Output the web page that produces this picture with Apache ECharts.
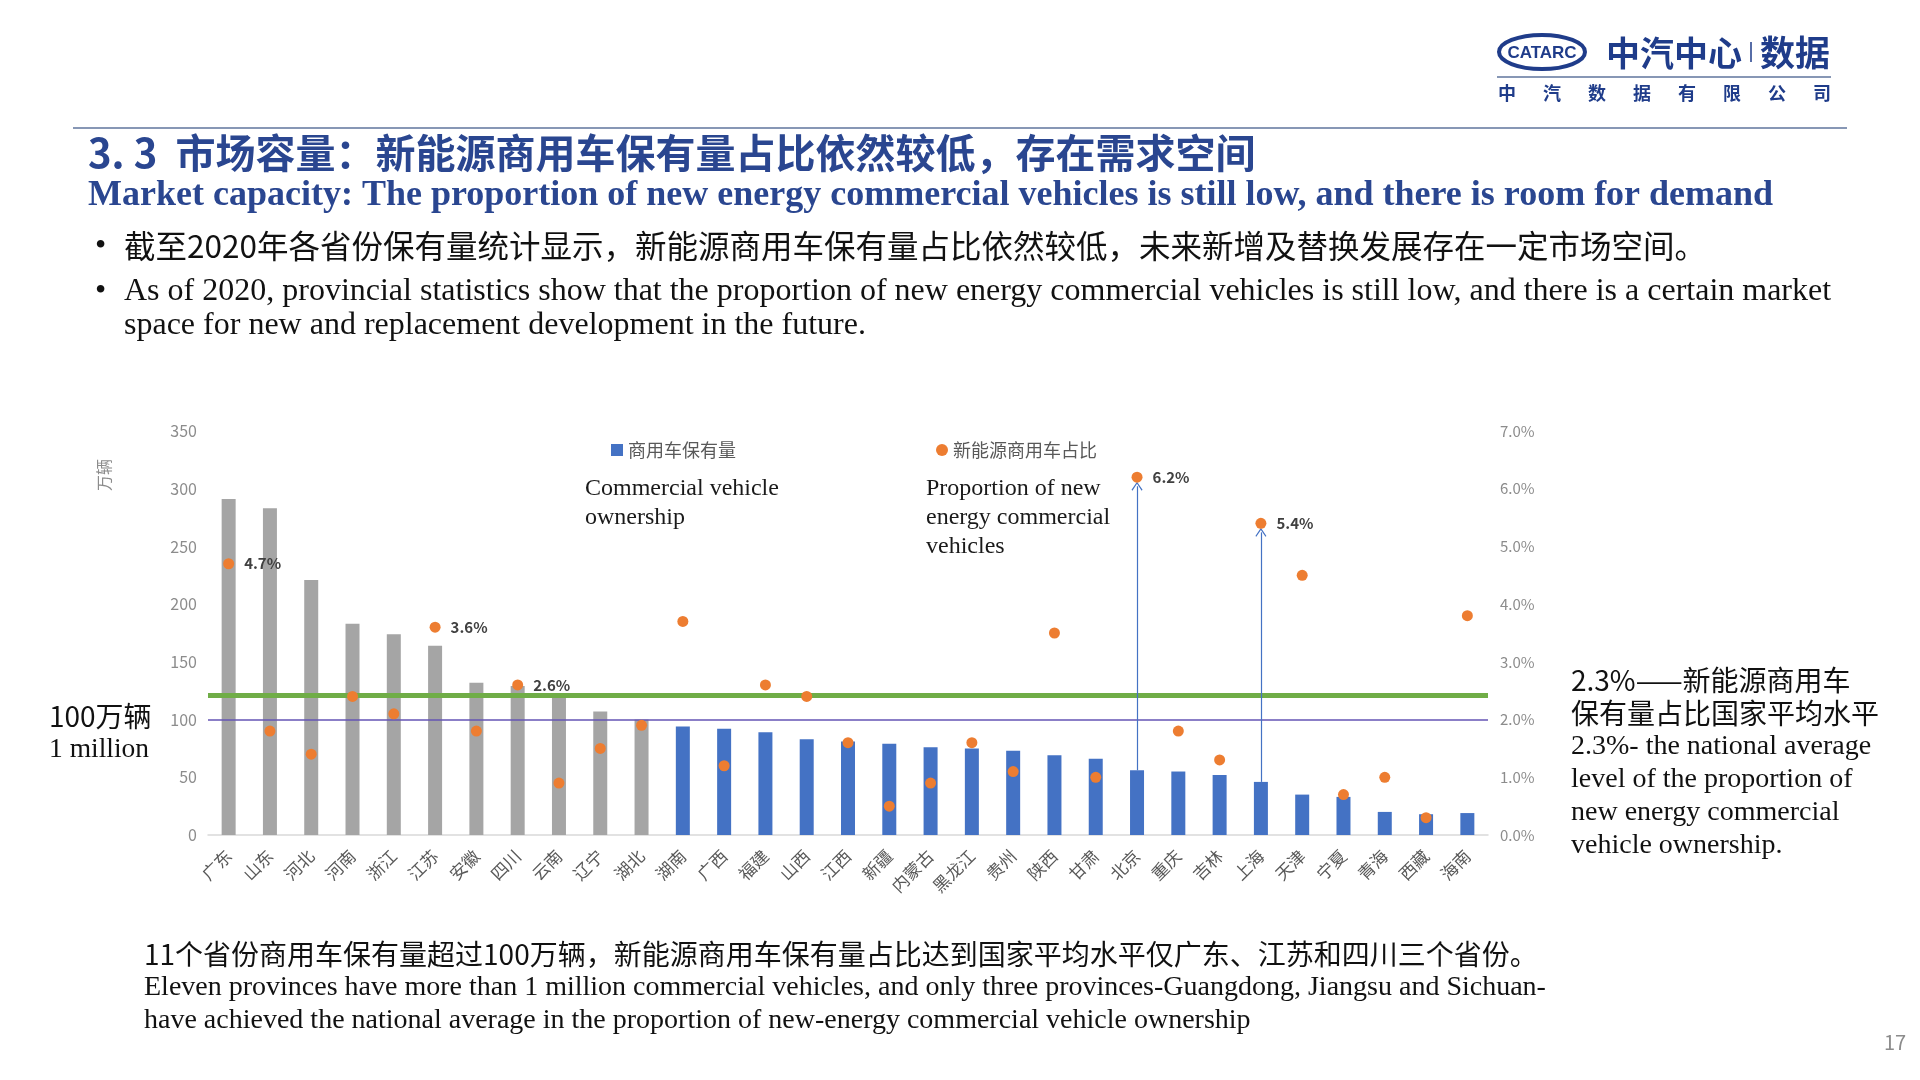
<!DOCTYPE html>
<html>
<head>
<meta charset="utf-8">
<script src="https://cdn.jsdelivr.net/npm/echarts@6/dist/echarts.min.js"></script>
<style>
html,body{margin:0;padding:0;background:#fff;}
#c{width:1920px;height:1080px;}
</style>
</head>
<body>
<div id="c"></div>
<script>
// ---- data ----
const categories = ['广东','山东','河北','河南','浙江','江苏','安徽','四川','云南','辽宁','湖北','湖南','广西','福建','山西','江西','新疆','内蒙古','黑龙江','贵州','陕西','甘肃','北京','重庆','吉林','上海','天津','宁夏','青海','西藏','海南'];
const ownership = [291,283,221,183,174,164,132,129,122,107,100,94,92,89,83,81,79,76,75,73,69,66,56,55,52,46,35,33,20,18,19];
const nevShare = [4.7,1.8,1.4,2.4,2.1,3.6,1.8,2.6,0.9,1.5,1.9,3.7,1.2,2.6,2.4,1.6,0.5,0.9,1.6,1.1,3.5,1.0,6.2,1.8,1.3,5.4,4.5,0.7,1.0,0.3,3.8];
const labeledProvinces = ['广东','江苏','四川','北京','上海'];
const arrowProvinces = ['北京','上海'];
const grayCount = 11;            // provinces above 1 million shown in gray
const millionLine = 100;         // 万辆
const avgLineLevel = 2.43;       // green national-average line as drawn
const leftTicks = {min:0, max:350, interval:50};
const rightTicks = {min:0, max:7, interval:1};

// ---- styles ----
const BLUE = '#4472C4', GRAY = '#A5A5A5', ORANGE = '#ED7D31', GREEN = '#70AD47', PURPLE = '#6555B5';
const NAVY = '#2A4690';
const CJK = '"Noto Sans CJK SC","Noto Sans",sans-serif';
const SERIF = '"Liberation Serif","DejaVu Serif",serif';
const grid = {left:208, right:432, top:431, bottom:245};
const gridH = 1080 - grid.top - grid.bottom;
const arrowGap = 9 * rightTicks.max / gridH; // small gap below the dot, in axis units

const barData = ownership.map((v,i)=>({value:v, itemStyle:{color: i < grayCount ? GRAY : BLUE}}));
const scatterData = nevShare.map((v,i)=>({
  value:v,
  label:{show: labeledProvinces.includes(categories[i])}
}));
const ratio = rightTicks.max / leftTicks.max;
const arrowLines = arrowProvinces.map(p=>{
  const i = categories.indexOf(p);
  return [{coord:[i, ownership[i]*ratio]}, {coord:[i, nevShare[i]-arrowGap]}];
});

const chev = 'path://M55,0 L110,80 L101,88 L55,20 L9,88 L0,80 Z';

function txt(x,y,text,font,fill,extra,props){
  return Object.assign({type:'text', silent:true, style:Object.assign({x:x,y:y,text:text,font:font,fill:fill||'#1a1a1a',verticalAlign:'middle',align:'left'}, extra||{})}, props||{});
}

const graphics = [
  // header rules
  {type:'line', silent:true, shape:{x1:73,y1:128,x2:1847,y2:128}, style:{stroke:'#8797B5', lineWidth:2}},
  {type:'line', silent:true, shape:{x1:1497,y1:77,x2:1831,y2:77}, style:{stroke:'#8797B5', lineWidth:2}},
  // logo
  {type:'ellipse', silent:true, shape:{cx:1542,cy:52,rx:43,ry:17}, style:{fill:'none', stroke:'#1F3C8A', lineWidth:4}},
  txt(1542,53,'CATARC','bold 17px "Liberation Sans Narrow","Liberation Sans",sans-serif','#1F3C8A',{align:'center'}),
  txt(1606,53,'中汽中心','bold 34px '+CJK,'#1F3C8A'),
  {type:'line', silent:true, shape:{x1:1751,y1:42,x2:1751,y2:62}, style:{stroke:'#1F3C8A', lineWidth:1.5}},
  txt(1760,53,'数据','bold 35px '+CJK,'#1F3C8A'),
  // titles
  txt(88,153,'3. 3  市场容量：新能源商用车保有量占比依然较低，存在需求空间','bold 40px '+CJK,NAVY),
  txt(88,196,'Market capacity: The proportion of new energy commercial vehicles is still low, and there is room for demand','bold 36px '+SERIF,NAVY),
  txt(95,247,'•','32px '+SERIF,'#111'),
  txt(124,246,'截至2020年各省份保有量统计显示，新能源商用车保有量占比依然较低，未来新增及替换发展存在一定市场空间。','31.5px '+CJK,'#111'),
  txt(95,292,'•','32px '+SERIF,'#111'),
  txt(124,292,'As of 2020, provincial statistics show that the proportion of new energy commercial vehicles is still low, and there is a certain market','32px '+SERIF,'#111'),
  txt(124,326,'space for new and replacement development in the future.','32px '+SERIF,'#111'),
  // chart annotations
  txt(585,489,'Commercial vehicle','24px '+SERIF,'#1a1a1a'),
  txt(585,518,'ownership','24px '+SERIF,'#1a1a1a'),
  txt(926,489,'Proportion of new','24px '+SERIF,'#1a1a1a'),
  txt(926,518,'energy commercial','24px '+SERIF,'#1a1a1a'),
  txt(926,547,'vehicles','24px '+SERIF,'#1a1a1a'),
  txt(104,475,'万辆','16px '+CJK,'#8c8c8c',{align:'center'},{rotation:Math.PI/2, x:0, y:0}),
  txt(49,716,'100万辆','28px '+CJK,'#111'),
  txt(49,750,'1 million','27.5px '+SERIF,'#111'),
  txt(1571,680,'2.3%——新能源商用车','28px '+CJK,'#111'),
  txt(1571,713,'保有量占比国家平均水平','28px '+CJK,'#111'),
  txt(1571,747,'2.3%- the national average','28px '+SERIF,'#111'),
  txt(1571,780,'level of the proportion of','28px '+SERIF,'#111'),
  txt(1571,813,'new energy commercial','28px '+SERIF,'#111'),
  txt(1571,846,'vehicle ownership.','28px '+SERIF,'#111'),
  // bottom
  txt(144,954,'11个省份商用车保有量超过100万辆，新能源商用车保有量占比达到国家平均水平仅广东、江苏和四川三个省份。','28px '+CJK,'#111'),
  txt(144,988,'Eleven provinces have more than 1 million commercial vehicles, and only three provinces-Guangdong, Jiangsu and Sichuan-','28px '+SERIF,'#111'),
  txt(144,1021,'have achieved the national average in the proportion of new-energy commercial vehicle ownership','28px '+SERIF,'#111'),
  txt(1895,1042,'17','20px '+CJK,'#8c8c8c',{align:'center'})
];
'中汽数据有限公司'.split('').forEach((ch,k)=>{
  graphics.push(txt(1507 + k*45, 93, ch, 'bold 18px '+CJK, '#1F3C8A', {align:'center'}));
});

// rotated axis unit label: position through element transform
const unitLabel = graphics.find(g=>g.style && g.style.text==='万辆');
unitLabel.x = unitLabel.style.x; unitLabel.y = unitLabel.style.y;
unitLabel.style.x = 0; unitLabel.style.y = 0;

const chart = echarts.init(document.getElementById('c'), null, {renderer:'canvas'});
chart.setOption({
  animation:false,
  backgroundColor:'#fff',
  grid:grid,
  legend:{
    left:606, top:436, itemGap:200, itemWidth:12, itemHeight:12,
    textStyle:{fontFamily:CJK, fontSize:18, color:'#595959'},
    data:[{name:'商用车保有量', icon:'rect', itemStyle:{color:BLUE}}, {name:'新能源商用车占比', icon:'circle', itemStyle:{color:ORANGE}}]
  },
  xAxis:{
    type:'category', data:categories,
    axisLine:{lineStyle:{color:'#D9D9D9', width:1.5}},
    axisTick:{show:false},
    axisLabel:{rotate:45, fontFamily:CJK, fontSize:17, color:'#595959', margin:18, interval:0}
  },
  yAxis:[
    {type:'value', min:leftTicks.min, max:leftTicks.max, interval:leftTicks.interval,
     axisLine:{show:false}, axisTick:{show:false}, splitLine:{show:false},
     axisLabel:{fontFamily:CJK, fontSize:16, color:'#8c8c8c', margin:11}},
    {type:'value', min:rightTicks.min, max:rightTicks.max, interval:rightTicks.interval,
     axisLine:{show:false}, axisTick:{show:false}, splitLine:{show:false},
     axisLabel:{fontFamily:CJK, fontSize:15, color:'#8c8c8c', margin:12, formatter:v=>v.toFixed(1)+'%'}}
  ],
  series:[
    {name:'商用车保有量', type:'bar', data:barData, barWidth:14, itemStyle:{color:BLUE}, z:2,
     markLine:{silent:true, symbol:'none', label:{show:false}, animation:false,
       lineStyle:{color:PURPLE, width:1.5, type:'solid'},
       data:[{yAxis:millionLine}]}},
    {name:'新能源商用车占比', type:'scatter', yAxisIndex:1, data:scatterData, symbolSize:11, z:5,
     itemStyle:{color:ORANGE, opacity:1},
     label:{position:'right', distance:10, formatter:p=>p.value.toFixed(1)+'%', fontFamily:CJK, fontSize:15, fontWeight:'bold', color:'#404040'},
     markLine:{silent:true, animation:false, label:{show:false}, symbol:'none', z:3,
       lineStyle:{color:GREEN, width:5, type:'solid'},
       data:[{yAxis:avgLineLevel}]}},
    {name:'arrows', type:'scatter', yAxisIndex:1, data:[], z:4,
     markLine:{silent:true, animation:false, label:{show:false}, symbol:['none', chev], symbolSize:[11,9],
       lineStyle:{color:BLUE, width:1.2, type:'solid', opacity:1},
       data:arrowLines}}
  ],
  graphic:graphics
});
</script>
</body>
</html>
